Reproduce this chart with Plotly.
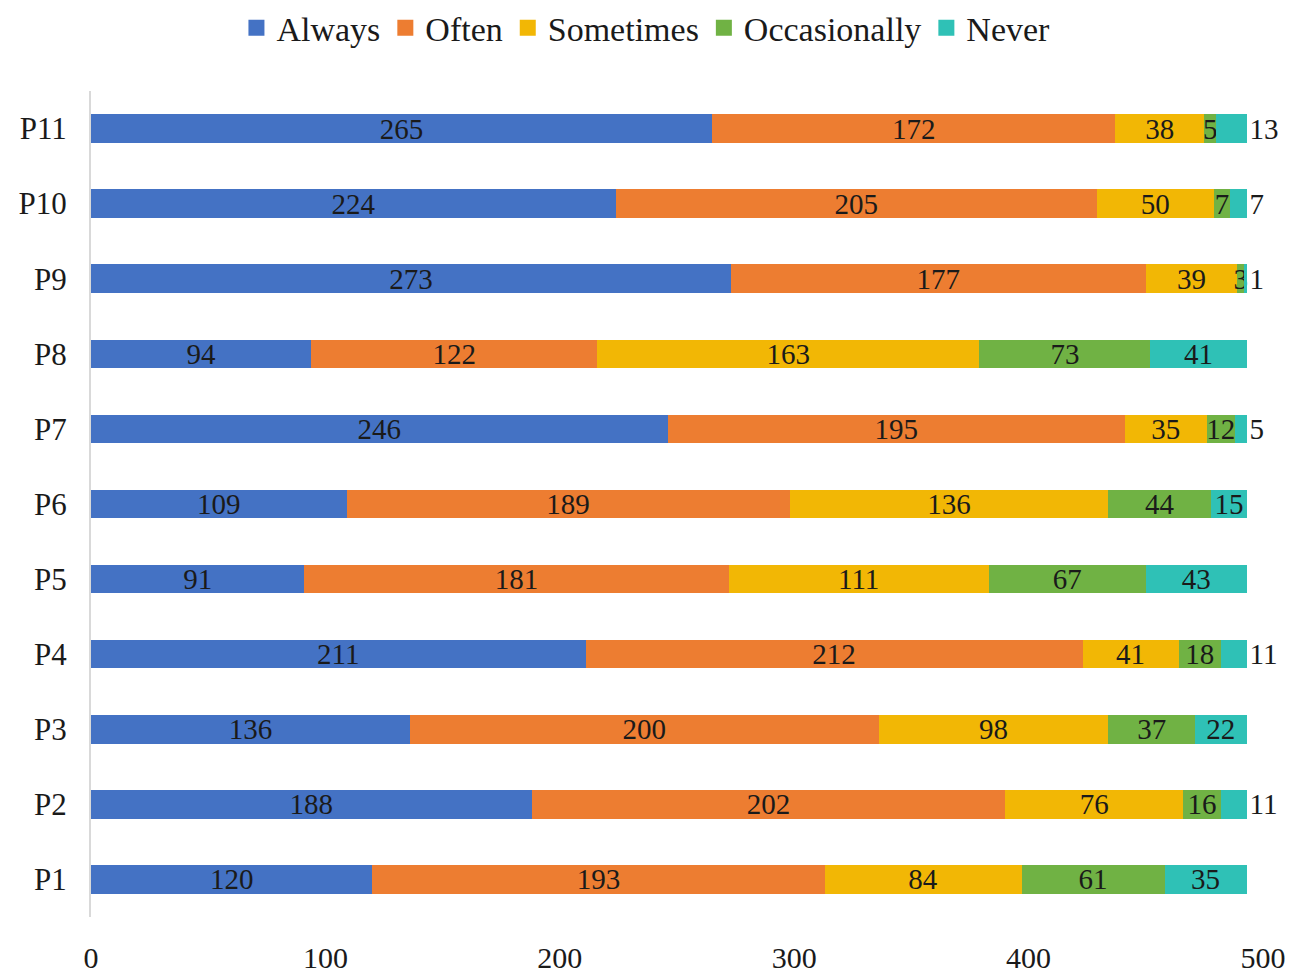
import plotly.graph_objects as go

# Survey responses per item (P1..P11), counts per frequency level
items = ["P1", "P2", "P3", "P4", "P5", "P6", "P7", "P8", "P9", "P10", "P11"]
always = [120, 188, 136, 211, 91, 109, 246, 94, 273, 224, 265]
often = [193, 202, 200, 212, 181, 189, 195, 122, 177, 205, 172]
sometimes = [84, 76, 98, 41, 111, 136, 35, 163, 39, 50, 38]
occasionally = [61, 16, 37, 18, 67, 44, 12, 73, 3, 7, 5]
never = [35, 11, 22, 11, 43, 15, 5, 41, 1, 7, 13]

series = [
    ("Always", always, "#4472C4"),
    ("Often", often, "#ED7D31"),
    ("Sometimes", sometimes, "#F2B705"),
    ("Occasionally", occasionally, "#70B244"),
    ("Never", never, "#2FC1B6"),
]

FONT = "'Times New Roman', 'Liberation Serif', Times, serif"
TXT = "#1a1a1a"

fig = go.Figure()
for name, vals, color in series:
    if name == "Never":
        # short end segments get their label placed past the bar end
        pos = ["outside" if v <= 13 else "inside" for v in vals]
    else:
        pos = "inside"
    fig.add_trace(go.Bar(
        y=items, x=vals, name=name, orientation="h",
        marker=dict(color=color, line=dict(width=0)),
        text=[str(v) for v in vals],
        textposition=pos,
        insidetextanchor="middle",
        textangle=0,
        constraintext="none",
        cliponaxis=False,
        showlegend=False,
        textfont=dict(family=FONT, size=29, color=TXT),
        insidetextfont=dict(family=FONT, size=29, color=TXT),
        outsidetextfont=dict(family=FONT, size=29, color=TXT),
    ))
    # legend entry with a larger square swatch
    fig.add_trace(go.Scatter(
        x=[None], y=[None], mode="markers", name=name,
        marker=dict(symbol="square", size=18, color=color),
        showlegend=True,
    ))

fig.update_layout(
    barmode="stack",
    bargap=0.62,
    width=1300, height=975,
    margin=dict(l=91, r=37, t=91, b=58, autoexpand=False),
    plot_bgcolor="white",
    paper_bgcolor="white",
    font=dict(family=FONT, size=30, color=TXT),
    legend=dict(
        orientation="h", x=0.4735, xanchor="center", y=1.076, yanchor="middle",
        font=dict(family=FONT, size=34, color=TXT),
        itemwidth=30, traceorder="normal",
    ),
    xaxis=dict(
        range=[0, 500], tickvals=[0, 100, 200, 300, 400, 500],
        showgrid=False, zeroline=False, showline=False,
        ticks="", ticklabelstandoff=20, automargin=False,
        tickfont=dict(family=FONT, size=30, color=TXT),
    ),
    yaxis=dict(
        categoryorder="array", categoryarray=items,
        showgrid=False, zeroline=False, automargin=False,
        showline=True, linecolor="#D9D9D9", linewidth=2,
        ticks="", ticklabelstandoff=16,
        tickfont=dict(family=FONT, size=31, color=TXT),
    ),
)

fig.write_html("out.html")
